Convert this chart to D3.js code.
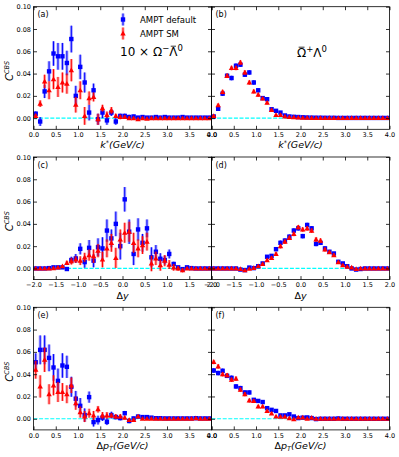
<!DOCTYPE html>
<html>
<head>
<meta charset="utf-8">
<script src="https://cdn.jsdelivr.net/npm/d3@7"></script>
<style>
body { margin: 0; background: #fff; }
svg { display: block; font-family: "DejaVu Sans", sans-serif; }
</style>
</head>
<body>
<script>
// bin centres
const kBins = [0.05,0.15,0.25,0.35,0.45,0.55,0.65,0.75,0.85,0.95,1.05,1.15,1.25,1.35,1.45,1.55,1.65,1.75,1.85,1.95,
  2.05,2.15,2.25,2.35,2.45,2.55,2.65,2.75,2.85,2.95,3.05,3.15,3.25,3.35,3.45,3.55,3.65,3.75,3.85,3.95];
const dyBins = [-1.95,-1.85,-1.75,-1.65,-1.55,-1.45,-1.35,-1.25,-1.15,-1.05,-0.95,-0.85,-0.75,-0.65,-0.55,-0.45,-0.35,-0.25,-0.15,-0.05,
  0.05,0.15,0.25,0.35,0.45,0.55,0.65,0.75,0.85,0.95,1.05,1.15,1.25,1.35,1.45,1.55,1.65,1.75,1.85,1.95];
const ptBins = [0.05,0.15,0.25,0.35,0.45,0.55,0.65,0.75,0.85,0.95,1.05,1.15,1.25,1.35,1.45,1.55,1.65,1.75,1.85,1.95,
  2.05,2.15,2.25,2.35,2.45,2.55,2.65,2.75,2.85,2.95,3.05,3.15,3.25,3.35,3.45,3.55,3.65,3.75,3.85,3.95];

const yTicks = [0.00, 0.02, 0.04, 0.06, 0.08, 0.10];
const kTicks = [0.0, 0.5, 1.0, 1.5, 2.0, 2.5, 3.0, 3.5, 4.0];
const dyTicks = [-2.0, -1.5, -1.0, -0.5, 0.0, 0.5, 1.0, 1.5, 2.0];

// (a) 10 x Omega- anti-Lambda0 vs k*
const aBlue = [0.004,-0.003,0.024,0.042,0.058,0.0555,0.0555,0.0495,0.071,0.020,0.046,0.032,0.005,0.025,-0.001,0.005,-0.002,0.005,-0.003,0.002,
  0.002,0.001,0.0015,0.0005,0.001,0.0005,0.0005,0.001,0.0005,0.001,0.0005,0.0005,0.0005,0.001,0.0005,0.0005,0.0005,0.0005,0.0005,0.0005];
const aBlueErr = [0.002,0.004,0.006,0.009,0.011,0.012,0.012,0.011,0.012,0.009,0.011,0.009,0.007,0.006,0.005,0.005,0.004,0.003,0.003,0.002,
  0.002,0.002,0.0015,0.0015,0.0015,0.001,0.001,0.001,0.001,0.001,0.001,0.001,0.001,0.001,0.001,0.001,0.001,0.001,0.001,0.001];
const aRed = [0.002,0.013,0.033,0.025,0.035,0.028,0.032,0.031,0.043,0.012,0.025,0.002,0.018,0.019,-0.001,0.009,0.003,0.007,0.002,0.001,
  0.001,0.0,0.0,-0.001,0.0,-0.0005,0.0,0.0,0.0,0.0,0.0,0.0,0.0,0.0,0.0,0.0,0.0,0.0,0.0,0.0];
const aRedErr = [0.002,0.003,0.006,0.008,0.009,0.009,0.009,0.009,0.010,0.007,0.008,0.008,0.006,0.004,0.005,0.003,0.003,0.003,0.002,0.002,
  0.0015,0.0015,0.001,0.001,0.001,0.001,0.001,0.001,0.001,0.001,0.001,0.001,0.001,0.001,0.001,0.001,0.001,0.001,0.001,0.001];

// (b) anti-Omega+ Lambda0 vs k*
const bBlue = [0.0015,0.0084,0.022,0.038,0.036,0.047,0.048,0.039,0.041,0.032,0.025,0.018,0.017,0.008,0.0066,0.005,0.0024,0.0015,0.0012,0.001,
  0.0008,0.0006,0.0005,0.0004,0.0004,0.0003,0.0003,0.0003,0.0002,0.0002,0.0002,0.0002,0.0002,0.0002,0.0002,0.0002,0.0002,0.0002,0.0002,0.0002];
const bBlueErr = [0.001,0.0015,0.002,0.002,0.002,0.002,0.002,0.002,0.002,0.002,0.0018,0.0015,0.0015,0.0012,0.001,0.001,0.001,0.0008,0.0008,0.0006,
  0.0005,0.0005,0.0005,0.0005,0.0005,0.0005,0.0005,0.0005,0.0005,0.0005,0.0005,0.0005,0.0005,0.0005,0.0005,0.0005,0.0005,0.0005,0.0005,0.0005];
const bRed = [0.002,0.0116,0.0235,0.038,0.045,0.045,0.050,0.041,0.032,0.024,0.021,0.0176,0.014,0.0075,0.003,0.003,0.0015,0.001,0.0008,0.0006,
  0.0005,0.0004,0.0003,0.0002,0.0002,0.0002,0.0002,0.0002,0.0002,0.0002,0.0002,0.0002,0.0002,0.0002,0.0002,0.0002,0.0002,0.0002,0.0002,0.0002];
const bRedErr = [0.001,0.0015,0.002,0.002,0.002,0.002,0.002,0.002,0.002,0.0018,0.0018,0.0015,0.0015,0.0012,0.001,0.001,0.001,0.0008,0.0008,0.0006,
  0.0005,0.0005,0.0005,0.0005,0.0005,0.0005,0.0005,0.0005,0.0005,0.0005,0.0005,0.0005,0.0005,0.0005,0.0005,0.0005,0.0005,0.0005,0.0005,0.0005];

// (c) 10 x Omega- anti-Lambda0 vs delta y
const cBlue = [0.0,0.0,0.0,0.0003,0.001,0.001,0.001,-0.0005,0.0075,0.009,0.0176,0.0057,0.0185,0.007,0.019,0.018,0.034,0.027,0.040,0.020,
  0.062,0.033,0.013,0.035,0.023,0.036,0.010,0.015,0.0087,0.0075,0.013,0.004,0.001,-0.0006,0.001,0.0003,0.0,0.0,0.0,0.0];
const cBlueErr = [0.0005,0.0005,0.0005,0.0005,0.0008,0.001,0.001,0.001,0.003,0.004,0.005,0.005,0.007,0.006,0.008,0.010,0.010,0.008,0.011,0.012,
  0.011,0.011,0.010,0.010,0.008,0.008,0.009,0.006,0.005,0.004,0.004,0.002,0.001,0.001,0.001,0.0005,0.0005,0.0005,0.0005,0.0005];
const cRed = [0.0,0.0,0.0,0.0,0.0003,0.001,0.002,0.005,0.0065,0.008,0.007,0.010,0.012,0.011,0.016,0.008,0.018,0.023,0.0095,0.026,
  0.032,0.033,0.023,0.018,0.021,0.024,0.0045,0.009,0.003,0.007,0.0035,0.001,0.0,-0.0015,0.0,0.0,0.0,0.0,0.0,0.0];
const cRedErr = [0.0005,0.0005,0.0005,0.0005,0.0008,0.001,0.001,0.002,0.003,0.003,0.004,0.004,0.005,0.006,0.006,0.007,0.008,0.008,0.009,0.009,
  0.009,0.009,0.009,0.008,0.008,0.008,0.007,0.006,0.005,0.005,0.004,0.003,0.002,0.002,0.001,0.0005,0.0005,0.0005,0.0005,0.0005];

// (d) anti-Omega+ Lambda0 vs delta y
const dBlue = [0.0,0.0,0.0,0.0,0.0,0.0,-0.001,-0.0015,0.0008,0.0003,0.002,0.0045,0.0105,0.0113,0.0173,0.023,0.025,0.0285,0.034,0.036,
  0.029,0.039,0.036,0.022,0.023,0.018,0.015,0.0134,0.006,0.0045,0.002,0.0,-0.001,-0.0005,0.0,0.0,0.0,0.0,0.0,0.0];
const dBlueErr = [0.0005,0.0005,0.0005,0.0005,0.0005,0.0005,0.0005,0.0005,0.0008,0.001,0.001,0.0012,0.0015,0.0015,0.0018,0.002,0.002,0.002,0.002,0.002,
  0.002,0.002,0.002,0.002,0.002,0.0018,0.0015,0.0015,0.0012,0.001,0.001,0.001,0.0008,0.0005,0.0005,0.0005,0.0005,0.0005,0.0005,0.0005];
const dRed = [0.0,0.0,0.0,0.0,0.0,0.0,-0.0005,-0.0015,-0.0003,0.0005,0.002,0.004,0.0075,0.0095,0.013,0.020,0.024,0.0275,0.031,0.037,
  0.035,0.036,0.034,0.026,0.025,0.017,0.0146,0.012,0.0057,0.003,0.0015,0.001,-0.0005,0.0,0.0,0.0,0.0,0.0,0.0,0.0];
const dRedErr = [0.0005,0.0005,0.0005,0.0005,0.0005,0.0005,0.0005,0.0005,0.0008,0.001,0.001,0.0012,0.0015,0.0015,0.0018,0.002,0.002,0.002,0.002,0.002,
  0.002,0.002,0.002,0.002,0.002,0.0018,0.0015,0.0015,0.0012,0.001,0.001,0.001,0.0008,0.0005,0.0005,0.0005,0.0005,0.0005,0.0005,0.0005];

// (e) 10 x Omega- anti-Lambda0 vs delta pT
const eBlue = [0.0507,0.0618,0.0618,0.0546,0.046,0.034,0.0478,0.0466,0.0287,0.018,0.0116,0.0033,0.0194,-0.003,-0.0012,0.001,-0.0027,0.0033,0.0015,0.0006,
  0.005,-0.002,0.0003,0.002,0.0015,0.0015,0.001,0.0005,0.0005,0.0003,0.0003,0.0003,0.0003,0.0003,0.0003,0.0003,0.0005,0.0003,0.0003,0.0003];
const eBlueErr = [0.008,0.013,0.013,0.012,0.012,0.011,0.011,0.010,0.009,0.007,0.007,0.006,0.005,0.004,0.004,0.003,0.003,0.003,0.002,0.002,
  0.002,0.002,0.0015,0.0015,0.0015,0.001,0.001,0.001,0.001,0.001,0.001,0.001,0.001,0.001,0.001,0.001,0.001,0.001,0.001,0.001];
const eRed = [0.044,0.029,0.053,0.022,0.030,0.024,0.024,0.022,0.030,0.014,0.006,0.002,0.005,0.003,0.0085,0.003,0.003,0.003,0.002,0.002,
  0.001,-0.001,-0.001,0.002,0.0,0.0,0.0,0.0,0.0,0.0,0.0,0.0,0.0,0.0,0.0,0.0,0.0005,0.0,0.0,0.0];
const eRedErr = [0.008,0.010,0.011,0.009,0.009,0.009,0.008,0.008,0.007,0.006,0.005,0.005,0.004,0.004,0.003,0.003,0.003,0.002,0.002,0.002,
  0.0015,0.0015,0.0015,0.001,0.001,0.001,0.001,0.001,0.001,0.001,0.001,0.001,0.001,0.001,0.001,0.001,0.001,0.001,0.001,0.001];

// (f) anti-Omega+ Lambda0 vs delta pT
const fBlue = [0.0433,0.041,0.043,0.0385,0.0367,0.029,0.0275,0.0236,0.0236,0.017,0.016,0.015,0.0095,0.008,0.007,0.003,0.003,0.004,0.002,0.0006,
  0.001,0.0012,0.0006,-0.0003,0.0,0.0,0.0,0.0,0.0003,0.0,0.0,0.0,0.0,0.0,0.0,0.0,0.0,0.0,0.0,0.0];
const fBlueErr = [0.002,0.002,0.002,0.002,0.002,0.002,0.002,0.0018,0.0018,0.0015,0.0015,0.0015,0.0012,0.0012,0.001,0.001,0.001,0.001,0.0008,0.0008,
  0.0006,0.0006,0.0006,0.0006,0.0006,0.0006,0.0006,0.0006,0.0006,0.0006,0.0006,0.0006,0.0006,0.0006,0.0006,0.0006,0.0006,0.0006,0.0006,0.0006];
const fRed = [0.051,0.047,0.040,0.039,0.035,0.036,0.026,0.022,0.0164,0.016,0.011,0.011,0.007,0.0048,0.002,0.0018,0.0018,0.0006,-0.0003,0.0012,
  0.0012,0.0,0.001,0.0,0.0,0.0,0.0,0.0,0.0,0.0,0.0,0.0,0.0,0.0,0.0,0.0,0.0,0.0,0.0,0.0];
const fRedErr = [0.002,0.002,0.002,0.002,0.002,0.002,0.002,0.0018,0.0018,0.0015,0.0015,0.0015,0.0012,0.0012,0.001,0.001,0.001,0.001,0.0008,0.0008,
  0.0006,0.0006,0.0006,0.0006,0.0006,0.0006,0.0006,0.0006,0.0006,0.0006,0.0006,0.0006,0.0006,0.0006,0.0006,0.0006,0.0006,0.0006,0.0006,0.0006];

const BLUE = '#0000ff', RED = '#ff0000';

const colX = [33.5, 211.5];
const rowY = [6.7, 157, 307.3];
const pw = 178, ph = 122.6;

const panels = [
  {tag: '(a)', col: 0, row: 0, xd: [0, 4], xt: kTicks, x: kBins, b: aBlue, be: aBlueErr, r: aRed, re: aRedErr, xl: 'k'},
  {tag: '(b)', col: 1, row: 0, xd: [0, 4], xt: kTicks, x: kBins, b: bBlue, be: bBlueErr, r: bRed, re: bRedErr, xl: 'k'},
  {tag: '(c)', col: 0, row: 1, xd: [-2, 2], xt: dyTicks, x: dyBins, b: cBlue, be: cBlueErr, r: cRed, re: cRedErr, xl: 'dy'},
  {tag: '(d)', col: 1, row: 1, xd: [-2, 2], xt: dyTicks, x: dyBins, b: dBlue, be: dBlueErr, r: dRed, re: dRedErr, xl: 'dy'},
  {tag: '(e)', col: 0, row: 2, xd: [0, 4], xt: kTicks, x: ptBins, b: eBlue, be: eBlueErr, r: eRed, re: eRedErr, xl: 'pt'},
  {tag: '(f)', col: 1, row: 2, xd: [0, 4], xt: kTicks, x: ptBins, b: fBlue, be: fBlueErr, r: fRed, re: fRedErr, xl: 'pt'}
];

const svg = d3.select('body').append('svg')
  .attr('width', 399)
  .attr('height', 457);

const minus = s => s.replace('-', '\u2212');
const fx = d => minus(d3.format('.1f')(d));
const fy = d => minus(d3.format('.2f')(d));

const tri = d3.symbol().type(d3.symbolTriangle).size(13);

panels.forEach(p => {
  const x0 = colX[p.col], y0 = rowY[p.row];
  const g = svg.append('g').attr('transform', `translate(${x0},${y0})`);
  const xs = d3.scaleLinear().domain(p.xd).range([0, pw]);
  const ys = d3.scaleLinear().domain([-0.01, 0.10]).range([ph, 0]);

  const clipId = 'clip' + p.tag.replace(/[()]/g, '');
  g.append('clipPath').attr('id', clipId)
    .append('rect').attr('x', -3).attr('y', 0).attr('width', pw + 6).attr('height', ph);

  // zero line
  g.append('line')
    .attr('x1', 0).attr('x2', pw)
    .attr('y1', ys(0)).attr('y2', ys(0))
    .attr('stroke', '#00ffff').attr('stroke-width', 1.2)
    .attr('stroke-dasharray', '4,1.6');

  const dg = g.append('g').attr('clip-path', `url(#${clipId})`);

  const series = [
    {vals: p.b, errs: p.be, color: BLUE, square: true},
    {vals: p.r, errs: p.re, color: RED, square: false}
  ];
  series.forEach(s => {
    const pts = s.vals.map((v, i) => ({x: p.x[i], y: v, e: s.errs[i]}));
    // light band, then dark error line
    dg.selectAll(null).data(pts).enter().append('line')
      .attr('x1', d => xs(d.x)).attr('x2', d => xs(d.x))
      .attr('y1', d => ys(d.y - d.e)).attr('y2', d => ys(d.y + d.e))
      .attr('stroke', s.color).attr('stroke-width', 3).attr('stroke-opacity', 0.35);
    dg.selectAll(null).data(pts).enter().append('line')
      .attr('x1', d => xs(d.x)).attr('x2', d => xs(d.x))
      .attr('y1', d => ys(d.y - d.e)).attr('y2', d => ys(d.y + d.e))
      .attr('stroke', s.color).attr('stroke-width', 1);
    if (s.square) {
      dg.selectAll(null).data(pts).enter().append('rect')
        .attr('x', d => xs(d.x) - 2.2).attr('y', d => ys(d.y) - 2.2)
        .attr('width', 4.4).attr('height', 4.4)
        .attr('fill', s.color);
    } else {
      dg.selectAll(null).data(pts).enter().append('path')
        .attr('d', tri)
        .attr('transform', d => `translate(${xs(d.x)},${ys(d.y) + 0.5})`)
        .attr('fill', s.color);
    }
  });

  // axes, ticks pointing in
  const ax = (gen, tr) => {
    const a = g.append('g').attr('transform', tr).call(gen);
    a.select('.domain').remove();
    a.selectAll('line').attr('stroke', '#000').attr('stroke-width', 0.8);
    a.selectAll('text').attr('font-size', 6.5).attr('fill', '#000')
      .attr('font-family', '"DejaVu Sans", sans-serif');
    return a;
  };
  ax(d3.axisBottom(xs).tickValues(p.xt).tickFormat(fx).tickSizeInner(-3.5).tickSizeOuter(0).tickPadding(3), `translate(0,${ph})`);
  ax(d3.axisTop(xs).tickValues(p.xt).tickFormat('').tickSizeInner(-3.5).tickSizeOuter(0), 'translate(0,0)');
  ax(d3.axisLeft(ys).tickValues(yTicks).tickFormat(p.col === 0 ? fy : '').tickSizeInner(-3.5).tickSizeOuter(0).tickPadding(2.5), 'translate(0,0)');
  ax(d3.axisRight(ys).tickValues(yTicks).tickFormat('').tickSizeInner(-3.5).tickSizeOuter(0), `translate(${pw},0)`);

  g.append('rect')
    .attr('width', pw).attr('height', ph)
    .attr('fill', 'none').attr('stroke', '#000').attr('stroke-width', 0.8);

  g.append('text').attr('x', 4).attr('y', 10.5)
    .attr('font-size', 8).text(p.tag);

  // x label
  const xl = g.append('text')
    .attr('x', pw / 2).attr('y', ph + 19)
    .attr('text-anchor', 'middle').attr('font-size', 9.5);
  if (p.xl === 'k') {
    xl.append('tspan').attr('font-style', 'italic').text('k');
    xl.append('tspan').attr('font-size', 6.5).attr('dy', -3.5).text('*');
    xl.append('tspan').attr('font-style', 'italic').attr('dy', 3.5).text('(GeV/c)');
  } else if (p.xl === 'dy') {
    xl.append('tspan').text('\u0394');
    xl.append('tspan').attr('font-style', 'italic').text('y');
  } else {
    xl.append('tspan').text('\u0394');
    xl.append('tspan').attr('font-style', 'italic').text('p');
    xl.append('tspan').attr('font-style', 'italic').attr('font-size', 6.5).attr('dy', 2).text('T');
    xl.append('tspan').attr('font-style', 'italic').attr('dy', -2).text('(GeV/c)');
  }

  // y label on the left column
  if (p.col === 0) {
    const yl = svg.append('text')
      .attr('transform', `translate(${x0 - 20.5},${y0 + ph / 2 + 3}) rotate(-90)`)
      .attr('text-anchor', 'middle').attr('font-size', 10);
    yl.append('tspan').attr('font-style', 'italic').text('C');
    yl.append('tspan').attr('font-style', 'italic').attr('font-size', 6.5).attr('dy', -4.5).text('CBS');
  }
});

// legend in (a)
const leg = svg.append('g');
[{c: BLUE, sq: true, t: 'AMPT default', y: 19.5}, {c: RED, sq: false, t: 'AMPT SM', y: 33.5}].forEach(l => {
  leg.append('line').attr('x1', 123).attr('x2', 123).attr('y1', l.y - 6).attr('y2', l.y + 6)
    .attr('stroke', l.c).attr('stroke-width', 3).attr('stroke-opacity', 0.35);
  leg.append('line').attr('x1', 123).attr('x2', 123).attr('y1', l.y - 6).attr('y2', l.y + 6)
    .attr('stroke', l.c).attr('stroke-width', 1);
  if (l.sq) {
    leg.append('rect').attr('x', 123 - 2.2).attr('y', l.y - 2.2).attr('width', 4.4).attr('height', 4.4).attr('fill', l.c);
  } else {
    leg.append('path').attr('d', tri).attr('transform', `translate(123,${l.y + 0.5})`).attr('fill', l.c);
  }
  leg.append('text').attr('x', 140).attr('y', l.y + 3).attr('font-size', 8.5).text(l.t);
});

// species annotations; the bar over a letter is drawn from its glyph box
function bar(textSel, charIndex) {
  const box = textSel.node().getExtentOfChar(charIndex);
  svg.append('line')
    .attr('x1', box.x + box.width * 0.18).attr('x2', box.x + box.width * 0.82)
    .attr('y1', box.y + 1.2).attr('y2', box.y + 1.2)
    .attr('stroke', '#000').attr('stroke-width', 0.8);
}

const t1 = svg.append('text').attr('x', 120).attr('y', 56).attr('font-size', 12);
t1.append('tspan').text('10 \u00d7 \u03a9');
t1.append('tspan').attr('font-size', 8.5).attr('dy', -5).text('\u2212');
t1.append('tspan').attr('dy', 5).text('\u039b');
t1.append('tspan').attr('font-size', 8.5).attr('dy', -5).text('0');
bar(t1, 7);

const t2 = svg.append('text').attr('x', 297).attr('y', 57).attr('font-size', 12);
t2.append('tspan').text('\u03a9');
t2.append('tspan').attr('font-size', 8.5).attr('dy', -5).text('+');
t2.append('tspan').attr('dy', 5).text('\u039b');
t2.append('tspan').attr('font-size', 8.5).attr('dy', -5).text('0');
bar(t2, 0);
</script>
</body>
</html>
